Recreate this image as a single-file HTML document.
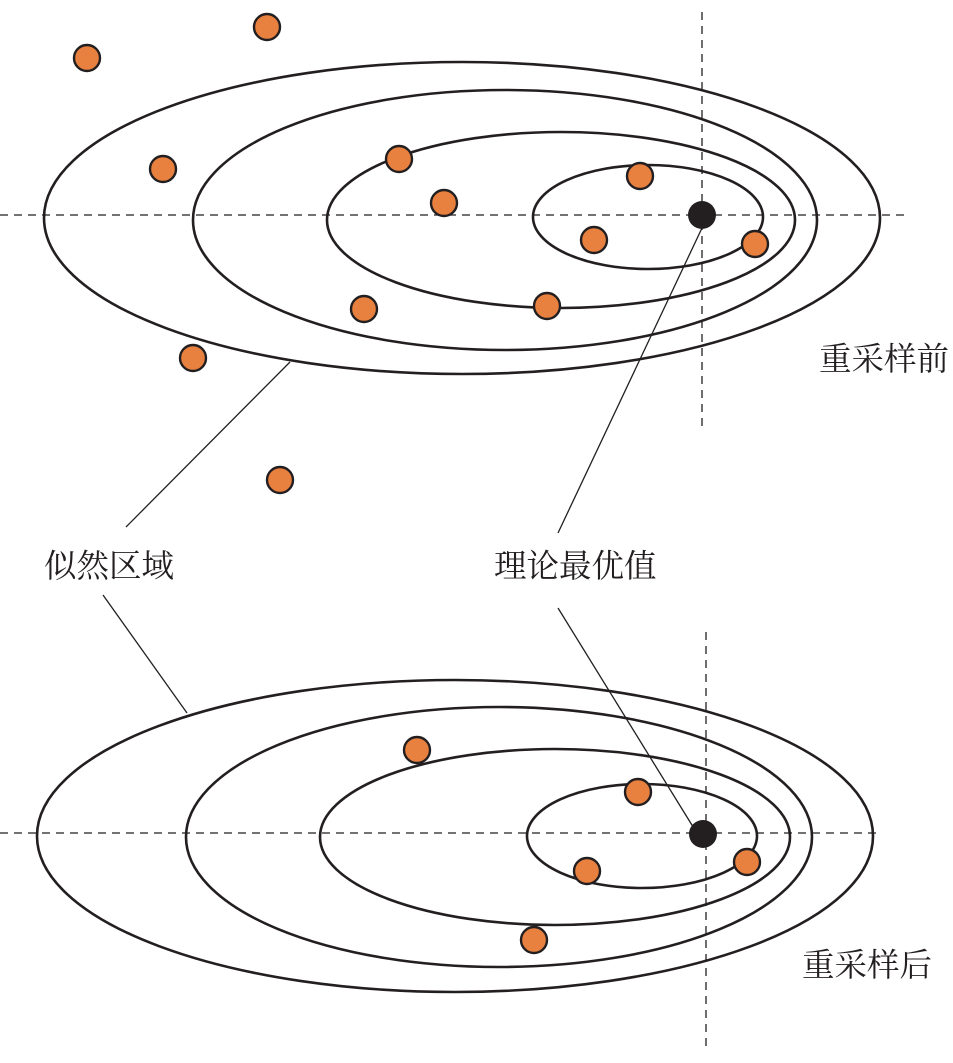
<!DOCTYPE html>
<html><head><meta charset="utf-8"><style>html,body{margin:0;padding:0;background:#fff}</style></head>
<body>
<svg width="953" height="1058" viewBox="0 0 953 1058" xmlns="http://www.w3.org/2000/svg">
<g fill="none" stroke="#231f20" stroke-width="2.6">
<ellipse cx="462" cy="218" rx="418" ry="156"/>
<ellipse cx="505" cy="220" rx="312" ry="130"/>
<ellipse cx="561" cy="220" rx="234" ry="88"/>
<ellipse cx="648" cy="217" rx="115" ry="52"/>
<ellipse cx="455" cy="836" rx="418" ry="156"/>
<ellipse cx="499" cy="837" rx="313" ry="130"/>
<ellipse cx="555" cy="837" rx="235" ry="88"/>
<ellipse cx="642" cy="836" rx="115" ry="52"/>
</g>
<g stroke="#231f20" stroke-width="1.3" stroke-dasharray="8,6">
<line x1="0" y1="215" x2="905" y2="215"/>
<line x1="702" y1="12" x2="702" y2="428"/>
<line x1="0" y1="833" x2="880" y2="833"/>
<line x1="706" y1="632" x2="706" y2="1050"/>
</g>
<g stroke="#231f20" stroke-width="1.3">
<line x1="290" y1="362" x2="126" y2="527"/>
<line x1="702" y1="228" x2="558" y2="533"/>
<line x1="103" y1="595" x2="187" y2="713"/>
<line x1="558" y1="608" x2="695" y2="830"/>
</g>
<g fill="#e8803f" stroke="#231f20" stroke-width="2.4">
<circle cx="267" cy="27" r="13"/><circle cx="87" cy="58" r="13"/><circle cx="163" cy="169" r="13"/>
<circle cx="399" cy="159" r="13"/><circle cx="444" cy="203" r="13"/><circle cx="640" cy="176" r="13"/>
<circle cx="594" cy="240" r="13"/><circle cx="755" cy="244" r="13"/><circle cx="364" cy="309" r="13"/>
<circle cx="547" cy="306" r="13"/><circle cx="193" cy="358" r="13"/><circle cx="280" cy="480" r="13"/>
<circle cx="417" cy="750" r="13"/><circle cx="638" cy="792" r="13"/><circle cx="587" cy="871" r="13"/>
<circle cx="747" cy="862" r="13"/><circle cx="534" cy="940" r="13"/>
</g>
<circle cx="702" cy="215" r="14" fill="#231f20"/>
<circle cx="703" cy="834" r="14" fill="#231f20"/>
<g font-family="'Liberation Serif','Noto Serif CJK SC',serif" font-size="32.5" fill="#231f20">
<text x="819" y="370">重采样前</text>
<text x="44" y="577">似然区域</text>
<text x="494" y="577">理论最优值</text>
<text x="802" y="976">重采样后</text>
</g>
</svg>
</body></html>
